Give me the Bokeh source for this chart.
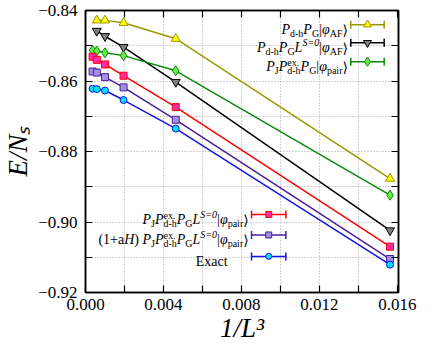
import glob, os, math
from bokeh.plotting import figure
from bokeh.models import Range1d, LinearAxis, FixedTicker, CustomJSTickFormatter, Label
from bokeh.embed import file_html
from bokeh.resources import INLINE

# ---------------- data ----------------
inv_L3_5 = [0.000579, 0.001, 0.001953, 0.00463, 0.015625]            # L = 12,10,8,6,4
inv_L3_6 = [0.000364, 0.000579, 0.001, 0.001953, 0.00463, 0.015625]  # L = 14,12,10,8,6,4

e_dh_af = [-0.8428, -0.8428, -0.8435, -0.8480, -0.8877]
e_dh_s0_af = [-0.8458, -0.8473, -0.8504, -0.8603, -0.9024]
e_j_dh_pair = [-0.8513, -0.8515, -0.8520, -0.8528, -0.8571, -0.8924]
e_j_dh_s0_pair = [-0.8531, -0.8540, -0.8553, -0.8585, -0.8674, -0.9070]
e_lanczos_pair = [-0.8573, -0.8576, -0.8589, -0.8618, -0.8710, -0.9105]
e_exact = [-0.8622, -0.8623, -0.8627, -0.8654, -0.8735, -0.9121]

x_ticks = [0.000, 0.002, 0.004, 0.006, 0.008, 0.010, 0.012, 0.014, 0.016]
x_tick_labels = ["0.000", "", "0.004", "", "0.008", "", "0.012", "", "0.016"]
y_ticks = [-0.92, -0.91, -0.90, -0.89, -0.88, -0.87, -0.86, -0.85, -0.84]
y_tick_labels = ["\u22120.92", "", "\u22120.90", "", "\u22120.88", "", "\u22120.86", "", "\u22120.84"]

x_title = "1/L\u00b3"
y_title = "E/N\u209b"

# ---------------- text measurement ----------------
def find_font(name):
    for d in ["/usr/share/fonts", "/usr/local/share/fonts", os.path.expanduser("~/.fonts")]:
        hits = glob.glob(os.path.join(d, "**", name), recursive=True)
        if hits:
            return hits[0]
    return None

try:
    from PIL import ImageFont
except Exception:
    ImageFont = None

FONT_FILES = {
    "r": find_font("LiberationSerif-Regular.ttf"),
    "i": find_font("LiberationSerif-Italic.ttf"),
    "b": find_font("DejaVuSans.ttf"),
}
FONT_CSS = {"r": ("Liberation Serif", "normal"), "i": ("Liberation Serif", "italic"), "b": ("DejaVu Sans", "normal")}
_cache = {}

def meas(text, st, size):
    f = FONT_FILES.get(st)
    if ImageFont is not None and f:
        if st not in _cache:
            _cache[st] = ImageFont.truetype(f, 100)
        return _cache[st].getlength(text) * size / 100.0
    return 0.5 * size * len(text)

# ---------------- figure ----------------
p = figure(width=418, height=346, x_range=Range1d(0, 0.01606), y_range=Range1d(-0.92, -0.84),
           output_backend="svg", toolbar_location=None,
           min_border_left=78, min_border_right=20, min_border_top=10, min_border_bottom=54)
p.extra_x_ranges = {"fx": Range1d(0, 1)}
p.extra_y_ranges = {"fy": Range1d(0, 1)}
p.background_fill_color = "white"
p.border_fill_color = "white"
p.outline_line_color = "black"
p.outline_line_width = 1.5

FMT_CODE = "const i = tv.findIndex(t => Math.abs(t - tick) < 1e-9); return i >= 0 ? tl[i] : '';"
xfmt = CustomJSTickFormatter(args=dict(tv=x_ticks, tl=x_tick_labels), code=FMT_CODE)
yfmt = CustomJSTickFormatter(args=dict(tv=y_ticks, tl=y_tick_labels), code=FMT_CODE)
nofmt = CustomJSTickFormatter(code="return '';")

def style_axis(ax, ticks, fmt, standoff):
    ax.ticker = FixedTicker(ticks=ticks)
    ax.formatter = fmt
    ax.axis_line_color = "black"
    ax.axis_line_width = 1.5
    ax.major_tick_in = 7
    ax.major_tick_out = 0
    ax.major_tick_line_width = 1.2
    ax.major_tick_line_color = "black"
    ax.minor_tick_line_color = None
    ax.major_label_text_font = "Liberation Serif"
    ax.major_label_text_font_size = "17px"
    ax.major_label_text_color = "black"
    ax.major_label_standoff = standoff

style_axis(p.xaxis[0], x_ticks, xfmt, 6)
style_axis(p.yaxis[0], y_ticks, yfmt, 8)
for ax, title, st in [(p.xaxis[0], x_title, 0), (p.yaxis[0], y_title, 2)]:
    ax.axis_label = title
    ax.axis_label_text_font = "Liberation Serif"
    ax.axis_label_text_font_style = "italic"
    ax.axis_label_text_font_size = "27px"
    ax.axis_label_text_color = "black"
    ax.axis_label_standoff = st

top_ax = LinearAxis()
right_ax = LinearAxis()
style_axis(top_ax, x_ticks, nofmt, 0)
style_axis(right_ax, y_ticks, nofmt, 0)
p.add_layout(top_ax, "above")
p.add_layout(right_ax, "right")

p.xgrid.ticker = FixedTicker(ticks=x_ticks)
p.ygrid.ticker = FixedTicker(ticks=y_ticks)
p.grid.grid_line_color = "#a8a8a8"
p.grid.grid_line_dash = "1 2"
p.grid.grid_line_width = 1

# ---------------- series ----------------
series = [
    dict(x=inv_L3_5, y=e_dh_af, line="#9a9a00", marker="triangle", fill="#ffff00", edge="#9a9a00", size=9),
    dict(x=inv_L3_5, y=e_dh_s0_af, line="#000000", marker="inverted_triangle", fill="#808080", edge="#000000", size=9),
    dict(x=inv_L3_6, y=e_j_dh_pair, line="#0a8a0a", marker="diamond", fill="#66ee44", edge="#0a8a0a", size=10),
    dict(x=inv_L3_6, y=e_j_dh_s0_pair, line="#ff0000", marker="square", fill="#ff2aa0", edge="#ff0000", size=7),
    dict(x=inv_L3_6, y=e_lanczos_pair, line="#4a1f9a", marker="square", fill="#a090e0", edge="#4a1f9a", size=7),
    dict(x=inv_L3_6, y=e_exact, line="#1515e0", marker="circle", fill="#00e0ff", edge="#1515e0", size=7),
]
for s in series:
    p.line(s["x"], s["y"], line_color=s["line"], line_width=1.5)
    p.scatter(s["x"], s["y"], marker=s["marker"], size=s["size"], fill_color=s["fill"],
              line_color=s["edge"], line_width=1)

# ---------------- legend (manual, gnuplot style) ----------------
RX0, RX1, RY0, RY1 = 88.0, 416.0, 6.0, 305.0
def fxr(px): return (px - RX0) / (RX1 - RX0)
def fyr(py): return (RY1 - py) / (RY1 - RY0)

M, S = 14, 10
SUB, SUP = -3.5, 5.0
BASE = -5.0

def layout(pieces):
    out = []
    x = 0.0
    for pc in pieces:
        if pc[0] == "STACK":
            _, sup, sub = pc
            w1 = meas(sup, "r", S); w2 = meas(sub, "r", S)
            out.append((sup, "r", S, x, 4.5))
            out.append((sub, "r", S, x, -4.0))
            x += max(w1, w2)
        else:
            t, st, lev = pc
            size = M if lev == 0 else S
            dy = 0.0 if lev == 0 else (SUB if lev < 0 else SUP)
            out.append((t, st, size, x, dy))
            x += meas(t, st, size)
    return out, x

def put_row(pieces, fx_right, fy_center):
    out, total = layout(pieces)
    for t, st, size, dx, dy in out:
        font, style = FONT_CSS[st]
        p.add_layout(Label(x=fx_right, y=fy_center, x_range_name="fx", y_range_name="fy",
                           x_offset=dx - total, y_offset=dy + BASE, text=t,
                           text_font=font, text_font_style=style, text_font_size=f"{size}px",
                           text_color="black", text_align="left", text_baseline="alphabetic"))

T1 = [("P", "i", 0), ("d-h", "r", -1), ("P", "i", 0), ("G", "r", -1), ("|", "r", 0), ("\u03c6", "i", 0), ("AF", "r", -1), ("\u27e9", "b", 0)]
T2 = [("P", "i", 0), ("d-h", "r", -1), ("P", "i", 0), ("G", "r", -1), ("L", "i", 0), ("S=0", "i", 1), ("|", "r", 0), ("\u03c6", "i", 0), ("AF", "r", -1), ("\u27e9", "b", 0)]
T3 = [("P", "i", 0), ("J", "r", -1), ("P", "i", 0), ("STACK", "ex.", "d-h"), ("P", "i", 0), ("G", "r", -1), ("|", "r", 0), ("\u03c6", "i", 0), ("pair", "r", -1), ("\u27e9", "b", 0)]
B1 = [("P", "i", 0), ("J", "r", -1), ("P", "i", 0), ("STACK", "ex.", "d-h"), ("P", "i", 0), ("G", "r", -1), ("L", "i", 0), ("S=0", "i", 1), ("|", "r", 0), ("\u03c6", "i", 0), ("pair", "r", -1), ("\u27e9", "b", 0)]
B2 = [("(1+a", "r", 0), ("H", "i", 0), (") ", "r", 0)] + B1
B3 = [("Exact", "r", 0)]

rows = [
    (T1, 363, 366, 401, 21.0, series[0]),
    (T2, 363, 366, 401, 40.3, series[1]),
    (T3, 363, 366, 401, 60.3, series[2]),
    (B1, 259, 262, 298, 222.3, series[3]),
    (B2, 259, 262, 298, 244.0, series[4]),
    (B3, 237, 262, 298, 266.7, series[5]),
]
for pieces, tr, s0, s1, yy, s in rows:
    put_row(pieces, fxr(tr), fyr(yy))
    fy = fyr(yy)
    p.segment(x0=[fxr(s0)], y0=[fy], x1=[fxr(s1)], y1=[fy], x_range_name="fx", y_range_name="fy",
              line_color=s["line"], line_width=1.5)
    p.scatter(x=[fxr(s0), fxr(s1)], y=[fy, fy], marker="dash", angle=math.pi / 2, size=8,
              line_color=s["line"], line_width=1.5, x_range_name="fx", y_range_name="fy")
    p.scatter(x=[fxr((s0 + s1) / 2)], y=[fy], marker=s["marker"], size=s["size"] - 1, fill_color=s["fill"],
              line_color=s["edge"], line_width=1, x_range_name="fx", y_range_name="fy")

open("out.html", "w").write(file_html(p, INLINE))
